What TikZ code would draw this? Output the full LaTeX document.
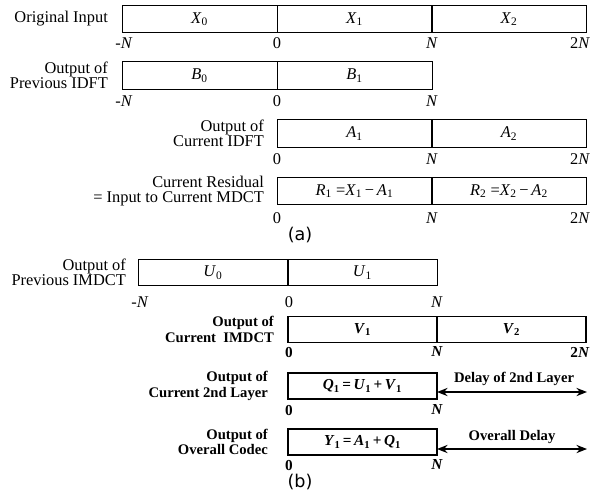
\documentclass[tikz,border=0pt]{standalone}
\usepackage{fontspec}
\setmainfont{Liberation Serif}
\newfontfamily\capfont{DejaVu Sans}
\usetikzlibrary{arrows.meta}

\newcommand{\vr}[2]{\textit{#1}\textsubscript{#2}}

\begin{document}
\begin{tikzpicture}[x=0.03cm, y=-0.03cm,
  every node/.style={font=\fontsize{14}{13}\selectfont},
  segA/.style={draw, line width=0.6pt, rectangle, inner sep=0pt, outer sep=0pt,
    minimum width=4.65cm, minimum height=0.82cm},
  segB/.style={segA, minimum width=4.47cm, minimum height=0.78cm},
  segT/.style={segB, line width=1.3pt, font=\fontsize{13}{13}\selectfont\bfseries},
  lbl/.style={anchor=east, align=right},
  lblT/.style={lbl, font=\fontsize{12.5}{13}\selectfont\bfseries},
  tick/.style={font=\fontsize{14}{14}\selectfont},
  tickT/.style={font=\fontsize{13}{13}\selectfont\bfseries},
  delay/.style={{Stealth[length=9pt,width=7pt]}-{Stealth[length=9pt,width=7pt]}, line width=1.3pt},
  caption/.style={font=\fontsize{15}{15}\selectfont\capfont}
]
\useasboundingbox (0,0) rectangle (600,498);

% (a) segments
\node[segA] (x0) at (199.5,19) {\vr{X}{0}};
\node[segA] (x1) at (354.5,19) {\vr{X}{1}};
\node[segA] (x2) at (509,19)   {\vr{X}{2}};

\node[segA] (b0) at (199.5,75.5) {\vr{B}{0}};
\node[segA] (b1) at (354.5,75.5) {\vr{B}{1}};

\node[segA] (a1) at (354.5,133.5) {\vr{A}{1}};
\node[segA] (a2) at (509,133.5)   {\vr{A}{2}};

\node[segA] (r1) at (354.5,191) {\vr{R}{1} =\vr{X}{1}\,−\,\vr{A}{1}};
\node[segA] (r2) at (509,191)   {\vr{R}{2} =\vr{X}{2}\,−\,\vr{A}{2}};

% (b) segments
\node[segB] (u0) at (213,272.5)   {\vr{U}{0}};
\node[segB] (u1) at (362.5,272.5) {\vr{U}{1}};

\node[segT] (v1) at (362.5,329.5) {\vr{V}{1}};
\node[segT] (v2) at (511.5,329.5) {\vr{V}{2}};

\node[segT] (q1) at (362.5,386) {\vr{Q}{1}\,=\,\vr{U}{1}\,+\,\vr{V}{1}};
\node[segT] (y1) at (362.5,442) {\vr{Y}{1}\,=\,\vr{A}{1}\,+\,\vr{Q}{1}};

% Row labels
\node[lbl] (inX) at (112,19)    {Original Input};
\node[lbl] (inB) at (112,75.5)  {Output of\\Previous IDFT};
\node[lbl] (inA) at (268,133.5) {Output of\\Current IDFT};
\node[lbl] (inR) at (268,191)   {Current Residual\\= Input to Current MDCT};
\node[lbl] (inU) at (130,272.5) {Output of\\Previous IMDCT};
\node[lblT] (inV) at (278,329.5) {Output of\\Current\ \ IMDCT};
\node[lblT] (inQ) at (272,386)   {Output of\\Current 2nd Layer};
\node[lblT] (inY) at (272,442)   {Output of\\Overall Codec};

% Axis marks
\foreach \nm/\x/\y/\t in {
  mx0/124/43/-\textit{N}, mx1/277/43/0, mx2/432/43/\textit{N}, mx3/580/43/2\textit{N},
  mb0/124/101/-\textit{N}, mb1/277/101/0, mb2/432/101/\textit{N},
  ma0/277/159/0, ma1/432/159/\textit{N}, ma2/580/159/2\textit{N},
  mr0/277/218/0, mr1/432/218/\textit{N}, mr2/580/218/2\textit{N},
  mu0/140/302/-\textit{N}, mu1/289/302/0, mu2/437/302/\textit{N}} {
  \node[tick] (\nm) at (\x,\y) {\t};
}
\foreach \nm/\x/\y/\t in {
  mv0/289/352/0, mv1/437/352/\textit{N}, mv2/580/352/2\textit{N},
  mq0/289/410/0, mq1/437/410/\textit{N},
  my0/289/465/0, my1/437/465/\textit{N}} {
  \node[tickT] (\nm) at (\x,\y) {\t};
}

% Delays
\coordinate (dq0) at (437,392);
\coordinate (dq1) at (587,392);
\coordinate (dy0) at (437,449);
\coordinate (dy1) at (587,449);
\draw[delay] (dq0) -- (dq1);
\draw[delay] (dy0) -- (dy1);
\node[lblT, anchor=center] (dqt) at (514,379) {Delay of 2nd Layer};
\node[lblT, anchor=center] (dyt) at (512,437) {Overall Delay};

% Captions
\node[caption] (capa) at (300,235) {(a)};
\node[caption] (capb) at (300,482) {(b)};

\end{tikzpicture}
\end{document}
